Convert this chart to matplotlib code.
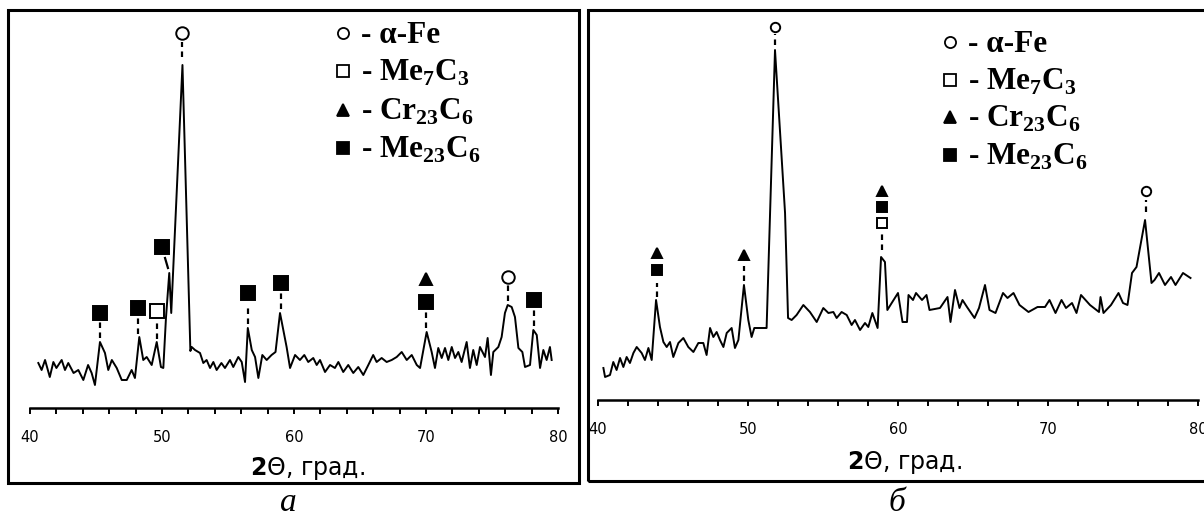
import matplotlib
matplotlib.use('Agg')
import matplotlib.pyplot as plt
from matplotlib.patches import Rectangle
from matplotlib.lines import Line2D
from matplotlib.ticker import MultipleLocator

plt.rcParams['mathtext.fontset'] = 'custom'
plt.rcParams['mathtext.rm'] = 'Liberation Serif:bold'
plt.rcParams['mathtext.bf'] = 'DejaVu Sans:bold'

# ---- panel a: diffraction trace (2theta, intensity in arb. units) ----
a_x = [40.63, 40.88, 41.14, 41.5, 41.77, 42.0, 42.4, 42.65, 42.9, 43.3, 43.66, 44.04,
       44.4, 44.67, 44.92, 45.3, 45.68, 45.93, 46.2, 46.57, 46.95, 47.33, 47.7, 47.95,
       48.28, 48.58, 48.84, 49.22, 49.6, 49.92, 50.1, 50.3, 50.55, 50.7, 51.55, 52.15,
       52.25, 52.5, 52.88, 53.13, 53.38, 53.64, 53.89, 54.14, 54.5, 54.77, 55.15, 55.4,
       55.78, 56.04, 56.29, 56.5, 56.8, 57.05, 57.3, 57.6, 57.93, 58.3, 58.6, 58.94,
       59.44, 59.7, 60.08, 60.45, 60.78, 61.08, 61.46, 61.72, 61.97, 62.35, 62.73, 63.1,
       63.36, 63.73, 64.11, 64.49, 64.87, 65.25, 65.63, 66.0, 66.26, 66.64, 67.02, 67.4,
       67.78, 68.16, 68.54, 68.92, 69.3, 69.55, 70.05, 70.43, 70.68, 70.93, 71.19, 71.44,
       71.69, 71.95, 72.2, 72.45, 72.7, 73.08, 73.33, 73.58, 73.84, 74.09, 74.47, 74.67,
       74.92, 75.1, 75.48, 75.73, 75.98, 76.19, 76.49, 76.74, 77.0, 77.3, 77.5, 77.88,
       78.13, 78.39, 78.64, 78.89, 79.14, 79.39, 79.52]
a_y = [45, 38, 48, 31, 46, 40, 48, 38, 45, 35, 38, 28,
       43, 35, 23, 66, 55, 38, 48, 40, 28, 28, 38, 30,
       71, 48, 51, 43, 66, 41, 40, 90, 135, 95, 343, 57,
       61, 58, 55, 45, 48, 40, 46, 38, 45, 40, 48, 41,
       51, 46, 26, 80, 58, 51, 30, 53, 48, 53, 56, 95,
       61, 40, 53, 48, 53, 46, 50, 43, 48, 36, 43, 40,
       46, 36, 43, 35, 41, 33, 43, 53, 46, 50, 46, 48,
       51, 56, 48, 53, 43, 40, 76, 56, 40, 60, 50, 60,
       48, 61, 50, 56, 46, 66, 40, 58, 43, 61, 51, 70,
       33, 56, 61, 71, 95, 103, 101, 91, 60, 56, 41, 43,
       78, 73, 40, 58, 48, 61, 48]

# ---- panel б ----
b_x = [40.36, 40.47, 40.8, 41.02, 41.24, 41.47, 41.69, 41.91, 42.13, 42.36, 42.58, 42.91,
       43.13, 43.36, 43.58, 43.87, 44.13, 44.36, 44.58, 44.8, 45.02, 45.36, 45.69, 46.02,
       46.36, 46.69, 47.02, 47.24, 47.47, 47.69, 47.91, 48.13, 48.36, 48.58, 48.91, 49.13,
       49.36, 49.73, 50.02, 50.24, 50.42, 51.24, 51.8, 52.47, 52.67, 52.91, 53.24, 53.69,
       54.13, 54.58, 55.02, 55.36, 55.69, 55.91, 56.24, 56.58, 56.91, 57.13, 57.47, 57.8,
       58.02, 58.29, 58.64, 58.87, 59.13, 59.29, 59.58, 60.0, 60.3, 60.6, 60.7, 61.0,
       61.2, 61.6, 61.9, 62.1, 62.8, 63.3, 63.5, 63.8, 64.1, 64.3, 64.6, 65.1,
       65.4, 65.8, 66.1, 66.5, 67.0, 67.3, 67.7, 68.1, 68.7, 69.3, 69.8, 70.1,
       70.5, 70.9, 71.2, 71.6, 71.9, 72.2, 72.8, 73.4, 73.5, 73.7, 74.2, 74.7,
       75.0, 75.3, 75.6, 75.9, 76.47, 76.9, 77.1, 77.4, 77.8, 78.2, 78.5, 79.0, 79.5]
b_y = [32, 23, 25, 38, 30, 42, 33, 43, 37, 47, 53, 47,
       40, 52, 40, 100, 73, 58, 53, 58, 43, 57, 62, 53,
       48, 57, 57, 45, 72, 63, 68, 60, 53, 67, 72, 52,
       60, 115, 80, 63, 72, 72, 350, 187, 82, 80, 85, 95,
       88, 78, 92, 87, 88, 82, 88, 85, 75, 80, 70, 77,
       73, 87, 72, 143, 138, 90, 97, 107, 78, 78, 105, 100,
       107, 100, 105, 90, 92, 103, 78, 110, 92, 100, 93, 82,
       92, 115, 90, 87, 107, 102, 107, 95, 88, 93, 93, 100,
       87, 100, 92, 97, 87, 105, 95, 88, 103, 87, 95, 107,
       97, 95, 127, 133, 180, 117, 120, 127, 115, 123, 115, 127, 122]

# phase marks above peaks: (2theta, height, kind)
a_marks = [(51.55, 375, 'fe'), (45.3, 95, 'm23'), (48.2, 100, 'm23'), (49.6, 97, 'm7'),
           (50.0, 161, 'm23'), (56.5, 115, 'm23'), (59.0, 125, 'm23'), (70.0, 129, 'cr'),
           (70.0, 106, 'm23'), (76.2, 131, 'fe'), (78.2, 108, 'm23')]
a_dashes = [(51.55, 351, 366), (45.3, 70, 86), (48.2, 74, 90), (49.6, 69, 87),
            (56.5, 84, 104), (59.0, 99, 117), (70.0, 80, 98), (76.2, 107, 123), (78.2, 82, 100)]
b_marks = [(43.9, 147, 'cr'), (43.9, 130, 'm23'), (49.7, 145, 'cr'), (51.8, 373, 'fe'),
           (58.9, 209, 'cr'), (58.9, 193, 'm23'), (58.9, 177, 'm7'), (76.5, 209, 'fe')]
b_dashes = [(43.9, 103, 117), (49.7, 119, 134), (51.8, 355, 366), (58.9, 150, 166),
            (76.5, 188, 200)]

legend_kinds = ['fe', 'm7', 'cr', 'm23']
legend_labels = ['- α-Fe', '- Me$_\\mathrm{7}$C$_\\mathrm{3}$',
                 '- Cr$_\\mathrm{23}$C$_\\mathrm{6}$', '- Me$_\\mathrm{23}$C$_\\mathrm{6}$']
tick_major = [40, 50, 60, 70, 80]

STYLE = {'fe': dict(marker='o', mfc='white'),
         'm7': dict(marker='s', mfc='white'),
         'cr': dict(marker='^', mfc='black'),
         'm23': dict(marker='s', mfc='black')}

W, H = 1204, 519
fig = plt.figure(figsize=(W / 100, H / 100), dpi=100)


def fx(px):
    return px / W


def fy(py):
    return 1 - py / H


def panel(x0, x1, ybase, ytop, x, y, marks, dashes, msize):
    ax = fig.add_axes([fx(x0), fy(ybase), (x1 - x0) / W, (ybase - ytop) / H])
    ax.plot(x, y, color='black', lw=1.4)
    for mx, my, kind in marks:
        ms = msize * (0.9 if kind in ('fe', 'cr') else 1.0)
        ax.plot([mx], [my], ls='none', mec='black', mew=1.4, ms=ms, clip_on=False,
                **STYLE[kind])
    for dx, lo, hi in dashes:
        ax.plot([dx, dx], [lo, hi], color='black', lw=1.6, ls=(0, (2.5, 2)))
    ax.set_xlim(40, 80)
    ax.set_ylim(0, ybase - ytop)
    for s in ['top', 'left', 'right']:
        ax.spines[s].set_visible(False)
    ax.spines['bottom'].set_linewidth(1.8)
    ax.set_yticks([])
    ax.set_xticks(tick_major)
    ax.xaxis.set_minor_locator(MultipleLocator(2))
    ax.tick_params(axis='x', which='both', direction='out', length=4, width=1.4)
    ax.tick_params(axis='x', which='major', pad=12, labelsize=10.5)
    ax.patch.set_alpha(0)
    return ax


ax_a = panel(30, 558, 408, 10, a_x, a_y, a_marks, a_dashes, 10)
# slanted tick under the shoulder mark
ax_a.plot([50.23, 50.45], [150, 140], color='black', lw=1.6)
ax_b = panel(598, 1198, 400, 10, b_x, b_y, b_marks, b_dashes, 7.5)

# frames around the panels
fig.add_artist(Rectangle((fx(8), fy(483)), (579 - 8) / W, (483 - 10) / H,
                         transform=fig.transFigure, fill=False, lw=2.2, ec='black'))
fig.add_artist(Rectangle((fx(588), fy(481)), (1230 - 588) / W, (481 - 10) / H,
                         transform=fig.transFigure, fill=False, lw=2.2, ec='black',
                         clip_on=False))

# legends
for lx, ly0, step in [(343, 33, 38.3), (950, 42, 37.7)]:
    for i, (kind, lab) in enumerate(zip(legend_kinds, legend_labels)):
        yy = ly0 + i * step
        fig.add_artist(Line2D([fx(lx)], [fy(yy)], transform=fig.transFigure, ls='none',
                              mec='black', mew=1.3, ms=8, **STYLE[kind]))
        fig.text(fx(lx + 18), fy(yy + 10), lab, fontsize=22.5, fontweight='bold',
                 family=['Liberation Serif', 'DejaVu Serif'], va='baseline', ha='left')

# axis titles
for cx, cy in [(308, 469), (905, 463)]:
    fig.text(fx(cx), fy(cy), '$\\mathbf{2}$Θ, град.', fontsize=17,
             family='DejaVu Sans', ha='center', va='center')

# captions
for cx, lab in [(288, 'а'), (897, 'б')]:
    fig.text(fx(cx), fy(511), lab, fontsize=24, style='italic',
             family=['Liberation Serif', 'DejaVu Serif'], ha='center', va='baseline')

fig.savefig('out.png', dpi=100, facecolor='white')
